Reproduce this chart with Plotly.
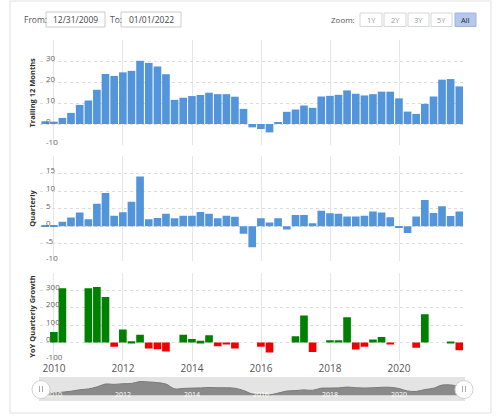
import plotly.graph_objects as go
import pandas as pd

# ---------------- data ----------------
quarter_dates = pd.date_range("2009-09-30", periods=49, freq="QE")

ttm_eps = [1.3, 1.1, 2.9, 5.3, 9.1, 11.2, 16.3, 23.8, 22.9, 24.6, 25.3, 30.1,
           29.1, 27.4, 23.7, 11.5, 12.5, 13.3, 13.8, 14.9, 14.2, 14.2, 13.0, 7.2,
           -1.6, -2.4, -4.0, 0.6, 5.8, 6.9, 8.8, 7.7, 13.1, 13.4, 13.9, 16.0,
           14.4, 13.6, 14.2, 15.4, 15.4, 12.2, 5.9, 4.8, 9.6, 13.1, 21.1, 21.4, 17.9]

quarterly_eps = [0.2, 0.4, 1.3, 2.5, 3.9, 2.0, 6.4, 9.5, 3.0, 4.0, 7.0, 14.2,
                 2.0, 2.4, 3.6, 2.3, 3.0, 3.0, 4.1, 3.6, 2.3, 3.0, 2.7, -2.1,
                 -6.0, 2.3, 1.1, 2.3, -0.9, 3.2, 3.2, 0.9, 4.4, 3.7, 3.6, 2.8,
                 2.8, 3.0, 4.2, 3.9, 2.6, -0.3, -1.9, 2.8, 7.5, 3.8, 5.7, 2.9, 4.2]

yoy_growth = [None, 60, 310, None, None, 310, 317, 260, -23, 75, 8, 45,
              -34, -38, -51, None, 45, 21, 11, 42, -21, -6, -34, None,
              None, -23, -57, None, None, 36, 155, -53, None, 13, 13, 145,
              -40, -23, 17, 32, -8, None, None, -30, 162, None, None, 6, -43]

year_ticks = ["2010-01-01", "2012-01-01", "2014-01-01", "2016-01-01",
              "2018-01-01", "2020-01-01"]
year_labels = ["2010", "2012", "2014", "2016", "2018", "2020"]

ttm_ticks = [-10, 0, 10, 20, 30, 40]
ttm_ticktext = ["-10", "0", "10", "20", "30", ""]
q_ticks = [-10, -5, 0, 5, 10, 15, 20]
q_ticktext = ["-10", "-5", "0", "5", "10", "15", ""]
yoy_ticks = [-100, 0, 100, 200, 300, 400]
yoy_ticktext = ["-100", "0", "100", "200", "300", ""]

from_date = "12/31/2009"
to_date = "01/01/2022"
zoom_buttons = ["1Y", "2Y", "3Y", "5Y", "All"]

# ---------------- layout helpers ----------------
W, H = 500, 418
def px(x):
    return x / W
def py(y):
    return 1 - y / H

FONT = "Open Sans"
BLUE = "#5395da"
GREEN = "#008000"
RED = "#f00000"
XRANGE = ["2009-08-06", "2021-11-08"]
XDOM = [px(40), px(463)]

fig = go.Figure()

fig.add_trace(go.Bar(x=quarter_dates, y=ttm_eps, marker_color=BLUE,
                     marker_line_width=0, xaxis="x", yaxis="y", showlegend=False))
fig.add_trace(go.Bar(x=quarter_dates, y=quarterly_eps, marker_color=BLUE,
                     marker_line_width=0, xaxis="x2", yaxis="y2", showlegend=False))
yoy_colors = [GREEN if (v is not None and v >= 0) else RED for v in yoy_growth]
fig.add_trace(go.Bar(x=quarter_dates, y=yoy_growth, marker_color=yoy_colors,
                     marker_line_width=0, xaxis="x3", yaxis="y3", showlegend=False))

# navigator
nav_base = [-5] * len(ttm_eps)
fig.add_trace(go.Scatter(x=quarter_dates, y=nav_base, mode="lines",
                         line=dict(width=0, color="rgba(0,0,0,0)"),
                         xaxis="x4", yaxis="y4", showlegend=False, hoverinfo="skip"))
fig.add_trace(go.Scatter(x=quarter_dates, y=ttm_eps, mode="lines", fill="tonexty",
                         fillcolor="#8a8a8a", line=dict(width=1, color="#7a7a7a", shape="spline"),
                         xaxis="x4", yaxis="y4", showlegend=False))

xcommon = dict(type="date", range=XRANGE, domain=XDOM, showgrid=True,
               gridcolor="#e6e6e6", gridwidth=1, tickmode="array",
               tickvals=year_ticks, ticktext=year_labels, automargin=False,
               zeroline=False, showline=False, ticks="", fixedrange=True)
ycommon = dict(showgrid=True, gridcolor="#dcdcdc", griddash="3px,3px", zeroline=False,
               showline=False, ticks="", ticklabelposition="inside", automargin=False,
               ticklabeloverflow="allow", fixedrange=True,
               tickfont=dict(family=FONT, size=8, color="#666"), ticklabelshift=-3,
               ticklabelstandoff=3)

layout = dict(
    width=W, height=H, margin=dict(l=0, r=0, t=0, b=0, autoexpand=False),
    paper_bgcolor="white", plot_bgcolor="white", bargap=0.1,
    font=dict(family=FONT),
    xaxis=dict(**xcommon, anchor="y", showticklabels=False),
    xaxis2=dict(**xcommon, anchor="y2", showticklabels=False),
    xaxis3=dict(**xcommon, anchor="y3", showticklabels=True,
                tickfont=dict(family=FONT, size=10, color="#555")),
    xaxis4=dict(type="date", range=XRANGE, domain=XDOM, showgrid=False, zeroline=False,
                anchor="y4", tickmode="array", tickvals=year_ticks, ticktext=year_labels,
                ticklabelposition="inside", ticklabeloverflow="allow", ticks="",
                automargin=False, fixedrange=True,
                tickfont=dict(family=FONT, size=7, color="white")),
    yaxis=dict(**ycommon, domain=[py(145), py(40)], range=[-10, 40], anchor="x",
               tickvals=ttm_ticks, ticktext=ttm_ticktext),
    yaxis2=dict(**ycommon, domain=[py(261.4), py(156.1)], range=[-10, 20], anchor="x2",
                tickvals=q_ticks, ticktext=q_ticktext),
    yaxis3=dict(**ycommon, domain=[py(361), py(272.5)], range=[-105, 400], anchor="x3",
                tickvals=yoy_ticks, ticktext=yoy_ticktext),
    yaxis4=dict(domain=[py(401), py(377)], range=[-19.7, 41.8], anchor="x4",
                showgrid=False, zeroline=False, showticklabels=False,
                automargin=False, fixedrange=True),
)
fig.update_layout(**layout)

shapes = []
annotations = []

# container border
shapes.append(dict(type="rect", xref="paper", yref="paper", x0=px(10), x1=px(491),
                   y0=py(413), y1=py(1), line=dict(color="#e0e0e0", width=1),
                   fillcolor="rgba(0,0,0,0)", layer="below"))

# navigator background
shapes.append(dict(type="rect", xref="paper", yref="paper", x0=px(39), x1=px(465),
                   y0=py(401), y1=py(377), line=dict(width=0), fillcolor="#e4e4e4",
                   layer="below"))

# handles
for hx in (41, 464):
    shapes.append(dict(type="circle", xref="paper", yref="paper",
                       x0=px(hx - 9), x1=px(hx + 9), y0=py(398.5), y1=py(380.5),
                       fillcolor="white", line=dict(color="#d0d0d0", width=1)))
    for dx in (-1.5, 1.5):
        shapes.append(dict(type="line", xref="paper", yref="paper",
                           x0=px(hx + dx), x1=px(hx + dx), y0=py(392), y1=py(386),
                           line=dict(color="#aaaaaa", width=1)))

# header: From / To inputs
annotations.append(dict(text="From:", x=px(22), y=py(19.5), xref="paper", yref="paper",
                        xanchor="left", yanchor="middle", showarrow=False,
                        font=dict(family=FONT, size=8.5, color="#555")))
shapes.append(dict(type="rect", xref="paper", yref="paper", x0=px(46), x1=px(105),
                   y0=py(27), y1=py(12), line=dict(color="#cccccc", width=1),
                   fillcolor="white"))
annotations.append(dict(text=from_date, x=px(75.5), y=py(19.5), xref="paper", yref="paper",
                        xanchor="center", yanchor="middle", showarrow=False,
                        font=dict(family=FONT, size=8.5, color="#444")))
annotations.append(dict(text="To:", x=px(107.5), y=py(19.5), xref="paper", yref="paper",
                        xanchor="left", yanchor="middle", showarrow=False,
                        font=dict(family=FONT, size=8.5, color="#555")))
shapes.append(dict(type="rect", xref="paper", yref="paper", x0=px(121), x1=px(181),
                   y0=py(27), y1=py(12), line=dict(color="#cccccc", width=1),
                   fillcolor="white"))
annotations.append(dict(text=to_date, x=px(151), y=py(19.5), xref="paper", yref="paper",
                        xanchor="center", yanchor="middle", showarrow=False,
                        font=dict(family=FONT, size=8.5, color="#444")))

# header: zoom buttons
annotations.append(dict(text="Zoom:", x=px(357), y=py(19.5), xref="paper", yref="paper",
                        xanchor="right", yanchor="middle", showarrow=False,
                        font=dict(family=FONT, size=8, color="#555")))
btn_x = [(360, 382), (384, 406), (408, 429), (431, 452), (455, 476)]
for label, (bx0, bx1) in zip(zoom_buttons, btn_x):
    active = label == "All"
    shapes.append(dict(type="rect", xref="paper", yref="paper", x0=px(bx0), x1=px(bx1),
                       y0=py(26.5), y1=py(13), fillcolor="#b4c8ee" if active else "white",
                       line=dict(color="#9fb4e0" if active else "#d6d6d6", width=1)))
    annotations.append(dict(text=label, x=px((bx0 + bx1) / 2), y=py(19.8), xref="paper",
                            yref="paper", xanchor="center", yanchor="middle", showarrow=False,
                            font=dict(family=FONT, size=7.5,
                                      color="#222" if active else "#999")))

# y-axis titles
for title, yc in (("Trailing 12 Months", 92.5), ("Quarterly", 208.7),
                  ("YoY Quarterly Growth", 316.7)):
    annotations.append(dict(text="<b>" + title + "</b>", x=px(32), y=py(yc), xref="paper",
                            yref="paper", xanchor="center", yanchor="middle",
                            showarrow=False, textangle=-90,
                            font=dict(family=FONT, size=7.5, color="#333")))

fig.update_layout(shapes=shapes, annotations=annotations)
fig.write_html("out.html", config={"displayModeBar": False},
               post_script="document.body.style.margin='0px';document.body.style.padding='0px';")
